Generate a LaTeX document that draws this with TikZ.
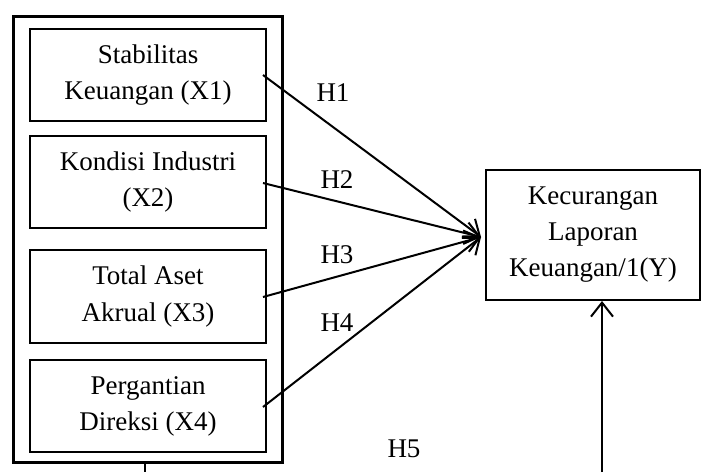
\documentclass[tikz,border=0pt]{standalone}
\usepackage{fontspec}
\setmainfont{Liberation Serif}
\usetikzlibrary{arrows.meta}
\begin{document}
\begin{tikzpicture}[x=1pt,y=-1pt,
  box/.style={draw,line width=2pt,inner sep=0pt,align=center,font=\fontsize{27}{36}\selectfont},
  lbl/.style={font=\fontsize{27}{36}\selectfont,inner sep=0pt},
  arr/.style={line width=2pt,-{Straight Barb[length=14pt,width=22pt,line width=2pt]}}]
\useasboundingbox (0,0) rectangle (712,472);
\node[draw,line width=2.6pt,minimum width=269pt,minimum height=446pt,anchor=north west] (outer) at (12,15) {};
\node[box,minimum width=236pt,minimum height=92pt] (x1) at (148,75) {Stabilitas\\Keuangan (X1)};
\node[box,minimum width=236pt,minimum height=92pt] (x2) at (148,182) {Kondisi Industri\\(X2)};
\node[box,minimum width=236pt,minimum height=93pt] (x3) at (148,296.5) {Total Aset\\Akrual (X3)};
\node[box,minimum width=236pt,minimum height=92pt] (x4) at (148,406) {Pergantian\\Direksi (X4)};
\node[box,minimum width=214pt,minimum height=130pt] (y) at (593,235) {Kecurangan\\Laporan\\Keuangan/1(Y)};
\coordinate (tip) at (481,237);
\coordinate (s1) at (263,75);
\coordinate (s2) at (263,183);
\coordinate (s3) at (263,297);
\coordinate (s4) at (263,407);
\draw[arr] (s1) -- (tip);
\draw[arr] (s2) -- (tip);
\draw[arr] (s3) -- (tip);
\draw[arr] (s4) -- (tip);
\node[lbl] (h1) at (333,93) {H1};
\node[lbl] (h2) at (337,180) {H2};
\node[lbl] (h3) at (337,255) {H3};
\node[lbl] (h4) at (337,323) {H4};
\node[lbl] (h5) at (404,449) {H5};
\coordinate (b1) at (145,472);
\coordinate (b2) at (602,472);
\draw[line width=2pt] (outer.south -| b1) -- (b1);
\draw[arr] (b2) -- (y.south -| b2);
\end{tikzpicture}
\end{document}
